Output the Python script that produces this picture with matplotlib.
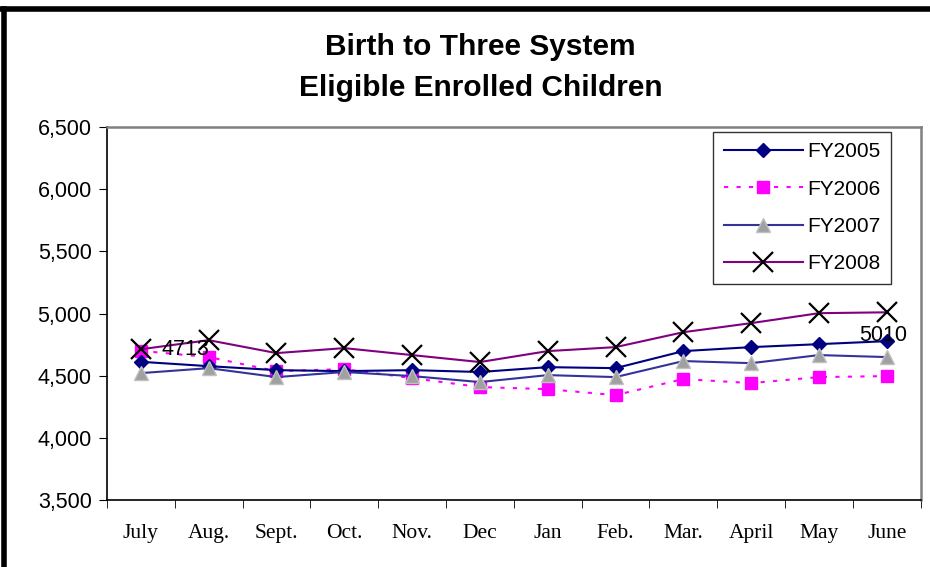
import numpy as np
import matplotlib.pyplot as plt
from matplotlib.ticker import FuncFormatter

months = ["July", "Aug.", "Sept.", "Oct.", "Nov.", "Dec", "Jan", "Feb.", "Mar.", "April", "May", "June"]
fy2005 = [4612, 4577, 4545, 4537, 4545, 4530, 4569, 4561, 4698, 4730, 4754, 4778]
fy2006 = [4700, 4650, 4537, 4553, 4481, 4409, 4392, 4344, 4473, 4441, 4489, 4497]
fy2007 = [4521, 4561, 4489, 4530, 4497, 4449, 4505, 4489, 4618, 4601, 4666, 4650]
fy2008 = [4713, 4786, 4682, 4722, 4666, 4610, 4698, 4730, 4850, 4923, 5003, 5010]

fig = plt.figure(figsize=(9.3, 5.67), dpi=100)
ax = fig.add_axes([0.115, 0.118, 0.875, 0.658])
x = np.arange(len(months))

ax.plot(x, fy2005, color="#000080", lw=1.5, marker="D", ms=7.5, mfc="#000080", mec="#000080", label="FY2005", zorder=3)
ax.plot(x, fy2006, color="#ff00ff", lw=1.5, ls=(0, (2, 4)), marker="s", ms=8.5, mfc="#ff00ff", mec="#ff00ff", label="FY2006", zorder=2)
ax.plot(x, fy2007, color="#333399", lw=1.5, marker="^", ms=10, mfc="#a0a0a0", mec="#c0c0c0", label="FY2007", zorder=4)
ax.plot(x, fy2008, color="#800080", lw=1.5, marker="x", ms=14, mew=1.6, mec="black", label="FY2008", zorder=5)

ax.text(x[0] + 0.3, fy2008[0], str(fy2008[0]), fontsize=15.5, family="Liberation Sans", va="center", ha="left", zorder=6)
ax.text(x[-1] - 0.05, fy2008[-1] - 190, str(fy2008[-1]), fontsize=15.5, family="Liberation Sans", va="center", ha="center", zorder=6)

ax.set_xlim(-0.5, 11.5)
ax.set_ylim(3500, 6500)
ax.set_yticks(np.arange(3500, 6501, 500))
ax.yaxis.set_major_formatter(FuncFormatter(lambda v, p: f"{int(v):,}"))
ax.set_xticks(x)
ax.set_xticklabels(months, family="Liberation Serif", fontsize=15.5)
ax.set_xticks(np.arange(-0.5, 12, 1), minor=True)
ax.tick_params(axis="x", which="major", length=0, pad=17)
ax.tick_params(axis="x", which="minor", length=6, direction="out", color="black")
ax.tick_params(axis="y", length=6, direction="out", labelsize=15.5, pad=5)
for lbl in ax.get_yticklabels():
    lbl.set_family("Liberation Sans")

for s in ["top", "right"]:
    ax.spines[s].set_color("#808080")
    ax.spines[s].set_linewidth(1.8)
for s in ["left", "bottom"]:
    ax.spines[s].set_color("black")
    ax.spines[s].set_linewidth(1.2)

leg = ax.legend(loc="upper right", bbox_to_anchor=(0.963, 0.987), borderaxespad=0,
                prop={"family": "Liberation Sans", "size": 15}, frameon=True, fancybox=False, edgecolor="black",
                handlelength=3.8, handletextpad=0.2, labelspacing=0.88, borderpad=0.5)
leg.get_frame().set_linewidth(1.0)

fig.text(0.517, 0.917, "Birth to Three System", ha="center", va="center", fontsize=21.5, fontweight="bold", family="Liberation Sans")
fig.text(0.517, 0.845, "Eligible Enrolled Children", ha="center", va="center", fontsize=21.5, fontweight="bold", family="Liberation Sans")

fig.add_artist(plt.Line2D([0.004, 0.004], [0, 0.984], transform=fig.transFigure, color="black", lw=4))
fig.add_artist(plt.Line2D([0.002, 1.0], [0.984, 0.984], transform=fig.transFigure, color="black", lw=4))

fig.savefig("out.png", dpi=100)
